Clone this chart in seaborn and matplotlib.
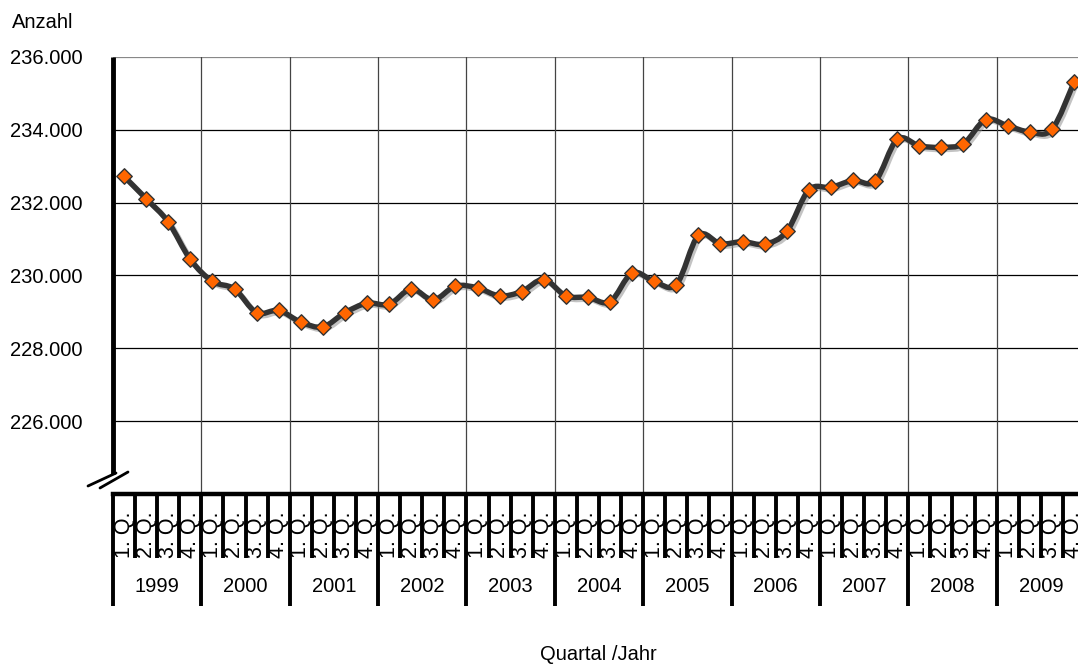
import matplotlib
matplotlib.use("Agg")
import matplotlib.pyplot as plt
import matplotlib.patheffects as pe
from matplotlib.path import Path
from matplotlib.patches import PathPatch
from matplotlib.transforms import blended_transform_factory
import seaborn as sns
import numpy as np

# data: quarterly counts (in thousands), 1999 Q1 .. 2009 Q4
years = ["1999", "2000", "2001", "2002", "2003", "2004",
         "2005", "2006", "2007", "2008", "2009"]
quarters = ["1. Q.", "2. Q.", "3. Q.", "4. Q."]
anzahl = [232.72, 232.11, 231.47, 230.44,
          229.84, 229.63, 228.98, 229.04,
          228.72, 228.59, 228.98, 229.24,
          229.21, 229.63, 229.33, 229.71,
          229.66, 229.44, 229.56, 229.89,
          229.44, 229.40, 229.28, 230.07,
          229.84, 229.75, 231.10, 230.87,
          230.93, 230.86, 231.21, 232.35,
          232.42, 232.61, 232.59, 233.74,
          233.56, 233.52, 233.62, 234.28,
          234.11, 233.94, 234.01, 235.30]
y_ticks = [226000, 228000, 230000, 232000, 234000, 236000]

W, H = 1078, 664
sns.set_style("white")
plt.rcParams["font.family"] = ["Liberation Sans", "DejaVu Sans"]
plt.rcParams["text.color"] = "black"
plt.rcParams["ytick.color"] = "black"
plt.rcParams["ytick.labelcolor"] = "black"

fig = plt.figure(figsize=(W / 100, H / 100), dpi=100)
# plot area runs past the right edge, like the cropped original
ax = fig.add_axes([113 / W, 1 - 494 / H, (1085 - 113) / W, (494 - 57) / H])

x = np.arange(len(anzahl))
y = np.array(anzahl) * 1000

# smoothed line (Catmull-Rom as cubic Bezier, in data coords)
pts = np.column_stack([x, y]).astype(float)
verts = [pts[0]]
codes = [Path.MOVETO]
for i in range(len(pts) - 1):
    p0 = pts[i - 1] if i > 0 else pts[i]
    p1, p2 = pts[i], pts[i + 1]
    p3 = pts[i + 2] if i + 2 < len(pts) else pts[i + 1]
    verts += [p1 + (p2 - p0) / 6, p2 - (p3 - p1) / 6, p2]
    codes += [Path.CURVE4] * 3
line = PathPatch(Path(verts, codes), facecolor="none", edgecolor="#333333",
                 lw=3.9, capstyle="round", joinstyle="round", zorder=3)
line.set_path_effects([pe.SimpleLineShadow(offset=(1.5, -1.5), shadow_color="#888888",
                                           alpha=0.5, linewidth=4),
                       pe.Normal()])
ax.add_patch(line)

sns.scatterplot(x=x, y=y, marker="D", s=62, color="#FF6600",
                edgecolor="#333333", linewidth=1.0, zorder=4, ax=ax)

ax.set_xlim(-0.5, len(anzahl) - 0.5)
ax.set_ylim(224000, 236000)
ax.set_yticks(y_ticks)
ax.set_yticklabels([f"{v:,.0f}".replace(",", ".") for v in y_ticks], fontsize=14.5)
ax.tick_params(axis="y", length=0, pad=22)
ax.set_xticks([])

ax.grid(False)
for v in y_ticks:
    ax.axhline(v, color="#888888" if v == 236000 else "black", lw=0.9, zorder=1)
for k in range(1, len(years)):
    ax.axvline(4 * k - 0.5, color="#444444", lw=0.9, zorder=1)

for s in ["top", "right", "left"]:
    ax.spines[s].set_visible(False)
ax.spines["bottom"].set_linewidth(3.2)
ax.spines["bottom"].set_color("black")

def fy(px):
    return 1 - px / H

bt = blended_transform_factory(ax.transData, fig.transFigure)

# left axis with break
ax.plot([-0.5, -0.5], [fy(57), fy(474)], transform=bt, color="black", lw=3.5,
        clip_on=False, solid_capstyle="butt")
fig.add_artist(plt.Line2D([88 / W, 116 / W], [fy(486), fy(473)], color="black", lw=2))
fig.add_artist(plt.Line2D([100 / W, 128 / W], [fy(488), fy(472)], color="black", lw=2))

# category table under the axis
for i in range(len(anzahl) + 1):
    bottom = 606 if i % 4 == 0 else 558
    ax.plot([i - 0.5, i - 0.5], [fy(494), fy(bottom)], transform=bt, color="black",
            lw=2.8, clip_on=False, solid_capstyle="butt")
for i in range(len(anzahl)):
    ax.text(i, fy(535), quarters[i % 4], transform=bt, rotation=90, ha="center",
            va="center", fontsize=15.5, clip_on=False)
for k, yr in enumerate(years):
    ax.text(4 * k + 1.5, fy(587), yr, transform=bt, ha="center", va="center",
            fontsize=14.5, clip_on=False)

fig.text(12 / W, fy(22), "Anzahl", ha="left", va="center", fontsize=14.5)
fig.text(598 / W, fy(655), "Quartal /Jahr", ha="center", va="center", fontsize=14.5)

fig.savefig("out.png", dpi=100)
